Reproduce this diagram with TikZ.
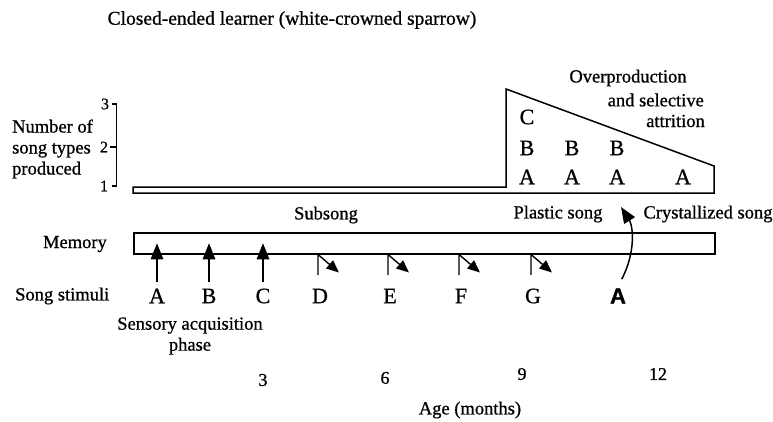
\documentclass[tikz,border=0pt]{standalone}
\usepackage{fontspec}
\setmainfont[FakeBold=0.8]{Liberation Serif}
\newfontfamily\heavysans{Liberation Sans}[UprightFont={* Bold}, FakeBold=1.2]
\usetikzlibrary{arrows.meta}

\tikzset{
  txt/.style={inner sep=1pt, font=\fontsize{18.5}{21}\selectfont},
  letter/.style={inner sep=2pt, font=\fontsize{22}{24}\selectfont},
  num/.style={inner sep=1pt, font=\fontsize{18}{20}\selectfont},
  ynum/.style={inner sep=1pt, font=\fontsize{16}{18}\selectfont},
  outline/.style={line width=1.5pt, line join=miter},
  bigarrow/.style={line width=1.5pt, -{Triangle[length=16pt,width=12.5pt]}},
  deflect/.style={line width=1.4pt, -{Triangle[length=12.5pt,width=10.5pt]}},
}

\begin{document}
\begin{tikzpicture}[x=1pt,y=-1pt]
\useasboundingbox (0,0) rectangle (773,421);

% title
\node[txt, font=\fontsize{19.5}{22}\selectfont] (title) at (292,20) {Closed-ended learner (white-crowned sparrow)};

% vertical axis of song types
\node[txt, anchor=west, align=left] (ylab) at (11,149) {Number of\\song types\\produced};
\node[ynum] (y3) at (105,104) {3};
\node[ynum] (y2) at (104,147) {2};
\node[ynum] (y1) at (104,186) {1};
\draw[line width=1.3pt] (y3.east) ++(2,0) coordinate (ax3) -- ++(4,0) coordinate (ax3r)
      -- (ax3r |- y1) -- ++(-4,0);
\draw[line width=1.3pt] (y2.east) ++(1,0) -- (ax3r |- y2);

% song production outline
\coordinate (p0) at (133,187);
\coordinate (p1) at (506,187);
\coordinate (p2) at (506,89);
\coordinate (p3) at (714,166);
\coordinate (p4) at (714,193);
\coordinate (p5) at (133,193);
\draw[outline] (p0) -- (p1) -- (p2) -- (p3) -- (p4) -- (p5) -- cycle;

% song types produced
\node[letter] (pc1) at (527,117) {C};
\node[letter] (pb1) at (527,148) {B};
\node[letter] (pb2) at (572,148) {B};
\node[letter] (pb3) at (617,148) {B};
\node[letter] (pa1) at (527,177) {A};
\node[letter] (pa2) at (572,177) {A};
\node[letter] (pa3) at (617,177) {A};
\node[letter] (pa4) at (683,177) {A};

\node[txt] (over) at (628,78) {Overproduction};
\node[txt, anchor=east] (sel) at (705,100) {and selective};
\node[txt, anchor=east] (attr) at (706,121) {attrition};

% phases
\node[txt] (subsong) at (326,215) {Subsong};
\node[txt] (plastic) at (558,214) {Plastic song};
\node[txt] (cryst) at (708,214) {Crystallized song};

% memory bar
\node[draw, line width=1.5pt, minimum width=581pt, minimum height=21pt, inner sep=0pt, anchor=north west] (mem) at (133,232) {};
\node[txt, anchor=east] (memlab) at (108,244) {Memory};

% song stimuli
\node[txt, anchor=west] (stimlab) at (14,296) {Song stimuli};
\node[letter] (sA) at (157,296) {A};
\node[letter] (sB) at (209,296) {B};
\node[letter] (sC) at (263,296) {C};
\node[letter] (sD) at (320,296) {D};
\node[letter] (sE) at (390,296) {E};
\node[letter] (sF) at (461,296) {F};
\node[letter] (sG) at (533,296) {G};
\node[inner sep=2pt, font=\heavysans\fontsize{22}{24}\selectfont] (sX) at (618,296) {A};

% stimuli stored in memory
\foreach \s in {sA,sB,sC}
  \draw[bigarrow, shorten <=4.5pt] (\s.north) -- (\s.north |- mem.center);

% stimuli rejected by memory
\foreach \s in {sD,sE,sF,sG}
  \draw[deflect, shorten <=11.5pt] ([xshift=-2pt]\s.north) -- ([xshift=-2pt]\s.north |- mem.south) -- ++(21,18);

% memorized song used for crystallization
\coordinate (tipX) at (621,207);
\draw[bigarrow, shorten <=8pt] (sX.north) .. controls (636,252) and (633,226) .. (tipX);

% labels below
\node[txt, align=center] (sens) at (190,336) {Sensory acquisition\\phase};
\node[num] (t3) at (263,380) {3};
\node[num] (t6) at (385,378) {6};
\node[num] (t9) at (522,374) {9};
\node[num] (t12) at (658,374) {12};
\node[txt] (age) at (470,410) {Age (months)};
\end{tikzpicture}
\end{document}
